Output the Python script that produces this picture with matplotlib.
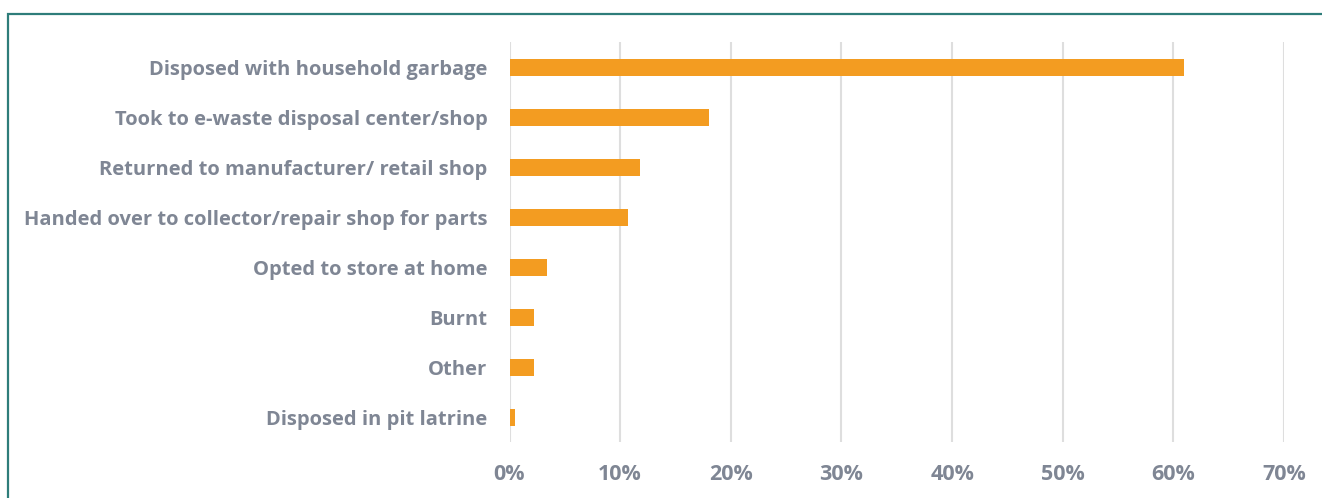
import matplotlib
matplotlib.use("Agg")
import matplotlib.pyplot as plt
from matplotlib.patches import Rectangle
from matplotlib.ticker import PercentFormatter

categories = [
    "Disposed with household garbage",
    "Took to e-waste disposal center/shop",
    "Returned to manufacturer/ retail shop",
    "Handed over to collector/repair shop for parts",
    "Opted to store at home",
    "Burnt",
    "Other",
    "Disposed in pit latrine",
]
values = [61.0, 18.0, 11.8, 10.7, 3.4, 2.2, 2.2, 0.5]
xticks = [0, 10, 20, 30, 40, 50, 60, 70]

W, H = 1322, 498
fig = plt.figure(figsize=(W / 100, H / 100), dpi=100)
ax = fig.add_axes([509.5 / W, 1 - 442 / H, (1284 - 509.5) / W, 400 / H])

text_color = "#7F8694"
ypos = list(range(len(categories)))
ax.barh(ypos, values, height=0.34, color="#F39C21", zorder=3)
ax.set_ylim(len(categories) - 0.5, -0.5)
ax.set_xlim(0, 70)
ax.set_xticks(xticks)
ax.xaxis.set_major_formatter(PercentFormatter(decimals=0))
ax.set_yticks(ypos)
ax.set_yticklabels(categories)
ax.grid(axis="x", color="#DEDEDE", linewidth=1.5, zorder=0)
for s in ax.spines.values():
    s.set_visible(False)
ax.tick_params(axis="both", length=0, colors=text_color)
ax.tick_params(axis="y", pad=16)
ax.tick_params(axis="x", pad=16)
for lab in ax.get_yticklabels():
    lab.set_fontfamily("Open Sans")
    lab.set_fontweight("bold")
    lab.set_fontsize(14.5)
    lab.set_color(text_color)
for lab in ax.get_xticklabels():
    lab.set_fontfamily("Open Sans")
    lab.set_fontweight("bold")
    lab.set_fontsize(15.5)
    lab.set_color(text_color)

# outer frame (left and top visible)
fig.patches.append(Rectangle((7.5 / W, -0.1), 1.2, 1 - 14.5 / H + 0.1,
                             transform=fig.transFigure, fill=False,
                             edgecolor="#2E7D7A", linewidth=1.6))

fig.savefig("out.png", dpi=100)
